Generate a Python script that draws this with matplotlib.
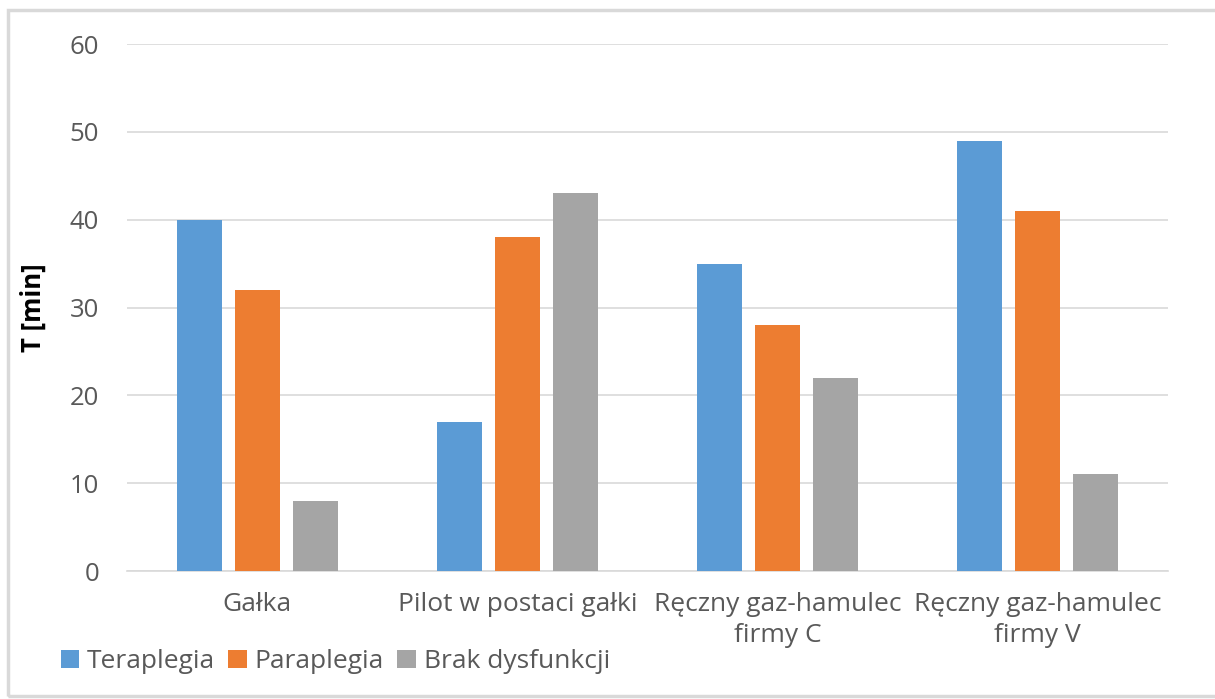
import matplotlib.pyplot as plt
import numpy as np
from matplotlib.patches import Rectangle

# dane
kategorie = ['Gałka', 'Pilot w postaci gałki', 'Ręczny gaz-hamulec\nfirmy C', 'Ręczny gaz-hamulec\nfirmy V']
teraplegia = [40, 17, 35, 49]
paraplegia = [32, 38, 28, 41]
brak = [8, 43, 22, 11]
serie = ['Teraplegia', 'Paraplegia', 'Brak dysfunkcji']
kolory = ['#5B9BD5', '#ED7D31', '#A5A5A5']

plt.rcParams['font.family'] = ['Open Sans', 'DejaVu Sans']

fig = plt.figure(figsize=(12.15, 6.99), dpi=100)
ax = fig.add_axes([0.1045, 0.1831, 0.8568, 0.7539])

x = np.arange(len(kategorie))
w = 0.173
krok = 0.223
for i, (vals, nazwa) in enumerate(zip([teraplegia, paraplegia, brak], serie)):
    ax.bar(x + (i - 1) * krok, vals, w, color=kolory[i], label=nazwa, zorder=3)

ax.set_xlim(-0.5, len(kategorie) - 0.5)
ax.set_ylim(0, 60)
ax.set_yticks(range(0, 61, 10))
ax.grid(axis='y', color='#D9D9D9', linewidth=1.2, zorder=0)
for s in ['top', 'right', 'left']:
    ax.spines[s].set_visible(False)
ax.spines['bottom'].set_color('#D9D9D9')
ax.spines['bottom'].set_linewidth(1.2)
ax.tick_params(axis='y', length=0, colors='#595959', labelsize=18.5, pad=20)
ax.tick_params(axis='x', length=0, colors='#595959', labelsize=19, pad=15)
ax.set_xticks(x)
ax.set_xticklabels(kategorie, linespacing=1.35)
ax.set_ylabel('T [min]', fontsize=18.5, fontweight='bold', color='black')
ax.yaxis.set_label_coords(-0.077, 0.5)

ax.legend(loc='center left', bbox_to_anchor=(0.05, 0.053), bbox_transform=fig.transFigure,
          ncol=3, frameon=False, fontsize=19, handlelength=0.7, handleheight=0.7,
          handletextpad=0.3, columnspacing=0.5, labelcolor='#595959', borderaxespad=0,
          borderpad=0)

# ramka wykresu
fig.patches.append(Rectangle((8 / 1215, 3 / 699), 1.2, 1 - 13 / 699, transform=fig.transFigure,
                             fill=False, edgecolor='#D9D9D9', linewidth=2.5))

fig.savefig('out.png', dpi=100)
